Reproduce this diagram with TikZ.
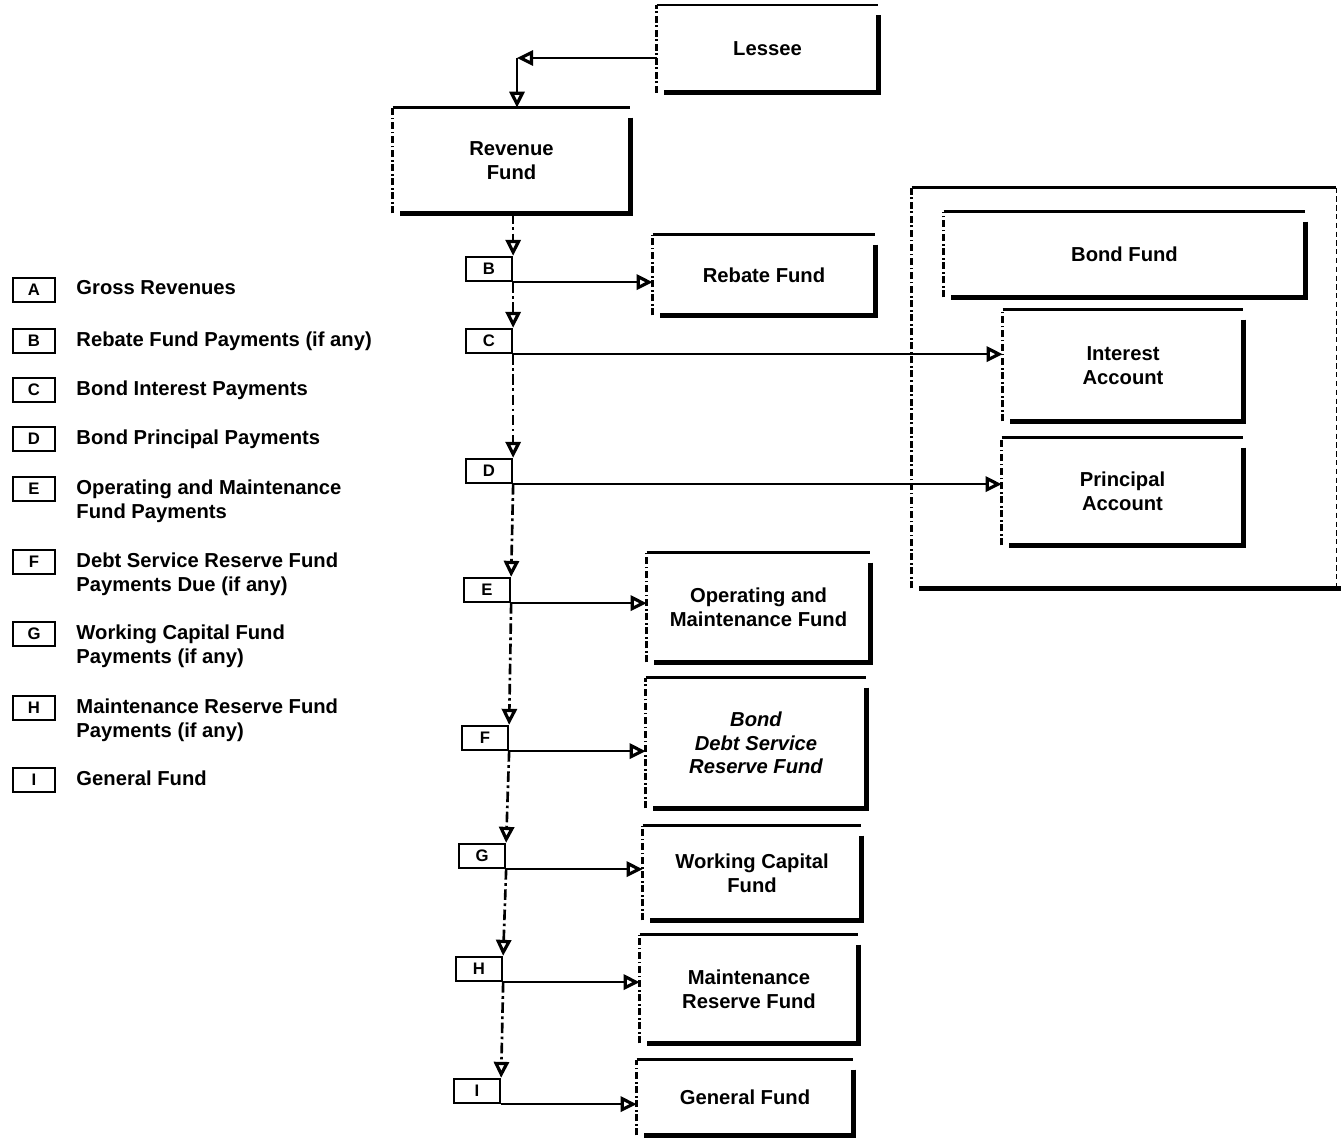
\documentclass[tikz,border=0pt]{standalone}
\usepackage{fontspec}
\setmainfont{Liberation Sans}
\usetikzlibrary{positioning, arrows.meta}

\begin{document}
\begin{tikzpicture}[
    x=0.02cm, y=-0.02cm,
    every node/.style={font=\bfseries\fontsize{11.5}{13.5}\selectfont},
    fund/.style={inner sep=0pt, align=center},
    tag/.style={draw, line width=1.3pt, inner sep=0pt, font=\bfseries\fontsize{9.5}{10}\selectfont},
    trunktag/.style={tag, minimum width=0.92cm, minimum height=0.48cm},
    legtext/.style={inner sep=0pt, align=left},
    flow/.style={line width=1.5pt, -{Triangle[open, length=0.32cm, width=0.3cm, line width=1.8pt]}},
    trunk/.style={line width=1.5pt, dash pattern=on 6pt off 2pt on 1.5pt off 2pt},
    topedge/.style={line width=1.4pt},
    sideedge/.style={line width=1.5pt, dash pattern=on 4pt off 1.5pt on 1pt off 1.5pt},
    shade/.style={line width=3pt}
  ]
  \useasboundingbox (0,0) rectangle (1341,1141);

  % legend
  \foreach \k/\y/\txt in {
      A/290/{Gross Revenues},
      B/341/{Rebate Fund Payments (if any)},
      C/390/{Bond Interest Payments},
      D/439/{Bond Principal Payments},
      E/489/{Operating and Maintenance\\Fund Payments},
      F/562/{Debt Service Reserve Fund\\Payments Due (if any)},
      G/634/{Working Capital Fund\\Payments (if any)},
      H/708/{Maintenance Reserve Fund\\Payments (if any)},
      I/780/{General Fund}}
  {
    \node[tag, minimum width=0.84cm, minimum height=0.48cm] (k\k) at (34,\y) {\k};
    \node[legtext, right=0.4cm of k\k.north east, anchor=north west, yshift=-0.07cm] (g\k) {\txt};
  }

  % funds and accounts
  \node[fund, minimum width=4.42cm, minimum height=1.74cm] (lessee) at (767.5,49) {Lessee};
  \node[fund, minimum width=4.74cm, minimum height=2.10cm] (revenue) at (511.5,160.5) {Revenue\\Fund};
  \node[fund, minimum width=4.44cm, minimum height=1.60cm] (rebate) at (764,275) {Rebate Fund};
  \node[fund, minimum width=8.48cm, minimum height=8.00cm] (bondgroup) at (1124,388) {};
  \node[fund, minimum width=7.22cm, minimum height=1.70cm] (bondfund) at (1124.5,254.5) {Bond Fund};
  \node[fund, minimum width=4.80cm, minimum height=2.22cm] (interest) at (1123,365.5) {Interest\\Account};
  \node[fund, minimum width=4.82cm, minimum height=2.14cm] (principal) at (1122.5,491.5) {Principal\\Account};
  \node[fund, minimum width=4.46cm, minimum height=2.18cm] (opmaint) at (758.5,607.5) {Operating and\\Maintenance Fund};
  \node[fund, minimum width=4.40cm, minimum height=2.60cm, font=\bfseries\itshape\fontsize{11.5}{13.5}\selectfont] (dsrf) at (756,743) {Bond\\Debt Service\\Reserve Fund};
  \node[fund, minimum width=4.36cm, minimum height=1.88cm] (workcap) at (752,873) {Working Capital\\Fund};
  \node[fund, minimum width=4.36cm, minimum height=2.16cm] (maintres) at (749,989) {Maintenance\\Reserve Fund};
  \node[fund, minimum width=4.32cm, minimum height=1.50cm] (general) at (745,1097.5) {General Fund};

  \foreach \b in {lessee,revenue,rebate,bondfund,interest,principal,opmaint,dsrf,workcap,maintres,general} {
    \draw[sideedge] (\b.south west) -- (\b.north west);
    \draw[topedge] (\b.north west) -- (\b.north east);
    \draw[shade] ([yshift=-0.2cm]\b.north east) -- (\b.south east) -- ([xshift=0.15cm]\b.south west);
  }
  % frame round the bond fund
  \draw[sideedge] (bondgroup.south west) -- (bondgroup.north west);
  \draw[topedge] (bondgroup.north west) -- (bondgroup.north east);
  \draw[thin, dash pattern=on 3pt off 2pt] (bondgroup.north east) -- (bondgroup.south east);
  \draw[shade] ([xshift=0.15cm]bondgroup.south west) -- ([xshift=0.2cm]bondgroup.south east);

  % payment tags on the flow line
  \node[trunktag] (tB) at (489,269) {B};
  \node[trunktag] (tC) at (489,341) {C};
  \node[trunktag] (tD) at (489,471) {D};
  \node[trunktag] (tE) at (487,590) {E};
  \node[trunktag] (tF) at (485,738) {F};
  \node[trunktag] (tG) at (482,856) {G};
  \node[trunktag] (tH) at (479,969) {H};
  \node[trunktag] (tI) at (477,1091) {I};

  % lessee into revenue fund
  \coordinate (turn) at (517,58);
  \draw[flow] (turn -| lessee.west) -- (turn);
  \draw[flow] (turn) -- (turn |- revenue.north);

  % flow of funds down the line
  \draw[trunk, flow] (revenue.south -| tB.north east) -- (tB.north east);
  \foreach \a/\b in {B/C, C/D, D/E, E/F, F/G, G/H, H/I}
    \draw[trunk, flow] (t\a.south east) -- (t\b.north east);

  % payments out to each fund
  \foreach \t/\f in {B/rebate, C/interest, D/principal, E/opmaint, F/dsrf, G/workcap, H/maintres, I/general}
    \draw[flow] (t\t.south east) -- (t\t.south east -| \f.west);
\end{tikzpicture}
\end{document}
